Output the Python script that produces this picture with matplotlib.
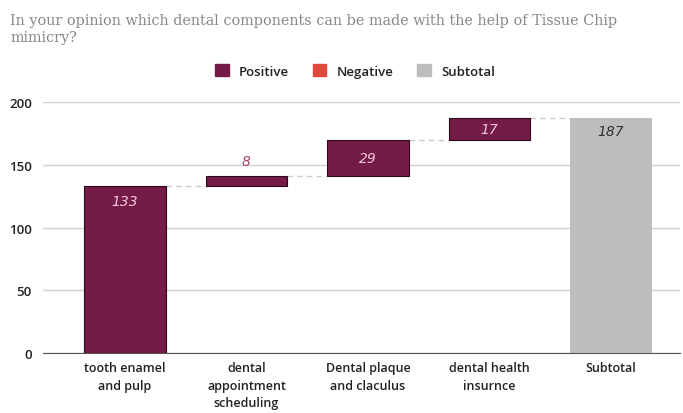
import numpy as np
import matplotlib
matplotlib.use("Agg")
import matplotlib.pyplot as plt
from matplotlib.patches import Patch

# data
categories = ["tooth enamel\nand pulp", "dental\nappointment\nscheduling",
              "Dental plaque\nand claculus", "dental health\ninsurnce", "Subtotal"]
changes = [133, 8, 29, 17]
subtotal = 187
title = "In your opinion which dental components can be made with the help of Tissue Chip\nmimicry?"

pos_color = "#741b47"
neg_color = "#e0483a"
sub_color = "#bdbdbd"

fig = plt.figure(figsize=(6.83, 4.14), dpi=100)
ax = fig.add_axes([0.063, 0.145, 0.9327, 0.606])

x = np.arange(len(categories))
bottoms = np.concatenate([[0], np.cumsum(changes)[:-1]])
tops = bottoms + np.array(changes)
w = 0.67

ax.bar(x[:4], changes, bottom=bottoms, width=w, color=pos_color,
       edgecolor="#2a0a1a", linewidth=0.8, zorder=3)
ax.bar(x[4], subtotal, width=w, color=sub_color, zorder=3)

# connectors
levels = list(tops)
for i in range(4):
    ax.plot([x[i] + w / 2, x[i + 1] - w / 2], [levels[i], levels[i]],
            ls=(0, (4, 3)), color="#cccccc", lw=1, zorder=2)

# value labels
for i, v in enumerate(changes):
    if v < 12:
        ax.text(x[i], tops[i] + 12, str(v), ha="center", va="center",
                fontsize=10, style="italic", color="#a0456e", family="DejaVu Sans")
    elif i == 0:
        ax.text(x[i], tops[i] - 12, str(v), ha="center", va="center",
                fontsize=10, style="italic", color="#f2c6da", family="DejaVu Sans")
    else:
        ax.text(x[i], (tops[i] + bottoms[i]) / 2, str(v), ha="center", va="center",
                fontsize=10, style="italic", color="#f2c6da", family="DejaVu Sans")
ax.text(x[4], subtotal - 10, str(subtotal), ha="center", va="center",
        fontsize=10, style="italic", color="#333333", family="DejaVu Sans")

ax.set_xlim(-0.675, 4.57)
ax.set_ylim(0, 200)
ax.set_yticks([0, 50, 100, 150, 200])
ax.set_xticks(x)
ax.set_xticklabels(categories, fontsize=9, family="Open Sans", fontweight="semibold",
                   color="#222222", linespacing=1.45)
ax.tick_params(axis="x", length=0, pad=6)
ax.tick_params(axis="y", length=0, pad=8, labelsize=9.5, labelcolor="#222222")
for lbl in ax.get_yticklabels():
    lbl.set_family("Open Sans")
    lbl.set_fontweight("semibold")
ax.grid(axis="y", color="#d0d0d0", lw=1, zorder=0)
for s in ["top", "right", "left"]:
    ax.spines[s].set_visible(False)
ax.spines["bottom"].set_color("#555555")
ax.spines["bottom"].set_zorder(4)

fig.text(0.015, 0.965, title, ha="left", va="top", fontsize=10.4,
         family="DejaVu Serif", color="#888888", linespacing=1.25)

handles = [Patch(color=pos_color, label="Positive"),
           Patch(color=neg_color, label="Negative"),
           Patch(color=sub_color, label="Subtotal")]
leg = fig.legend(handles=handles, loc="center", bbox_to_anchor=(0.52, 0.826), ncol=3,
                 frameon=False, handlelength=1.0, handleheight=1.0, columnspacing=1.8,
                 handletextpad=0.8, prop={"family": "Open Sans", "weight": "semibold", "size": 9.5})
for t in leg.get_texts():
    t.set_color("#222222")

fig.savefig("out.png", dpi=100)
